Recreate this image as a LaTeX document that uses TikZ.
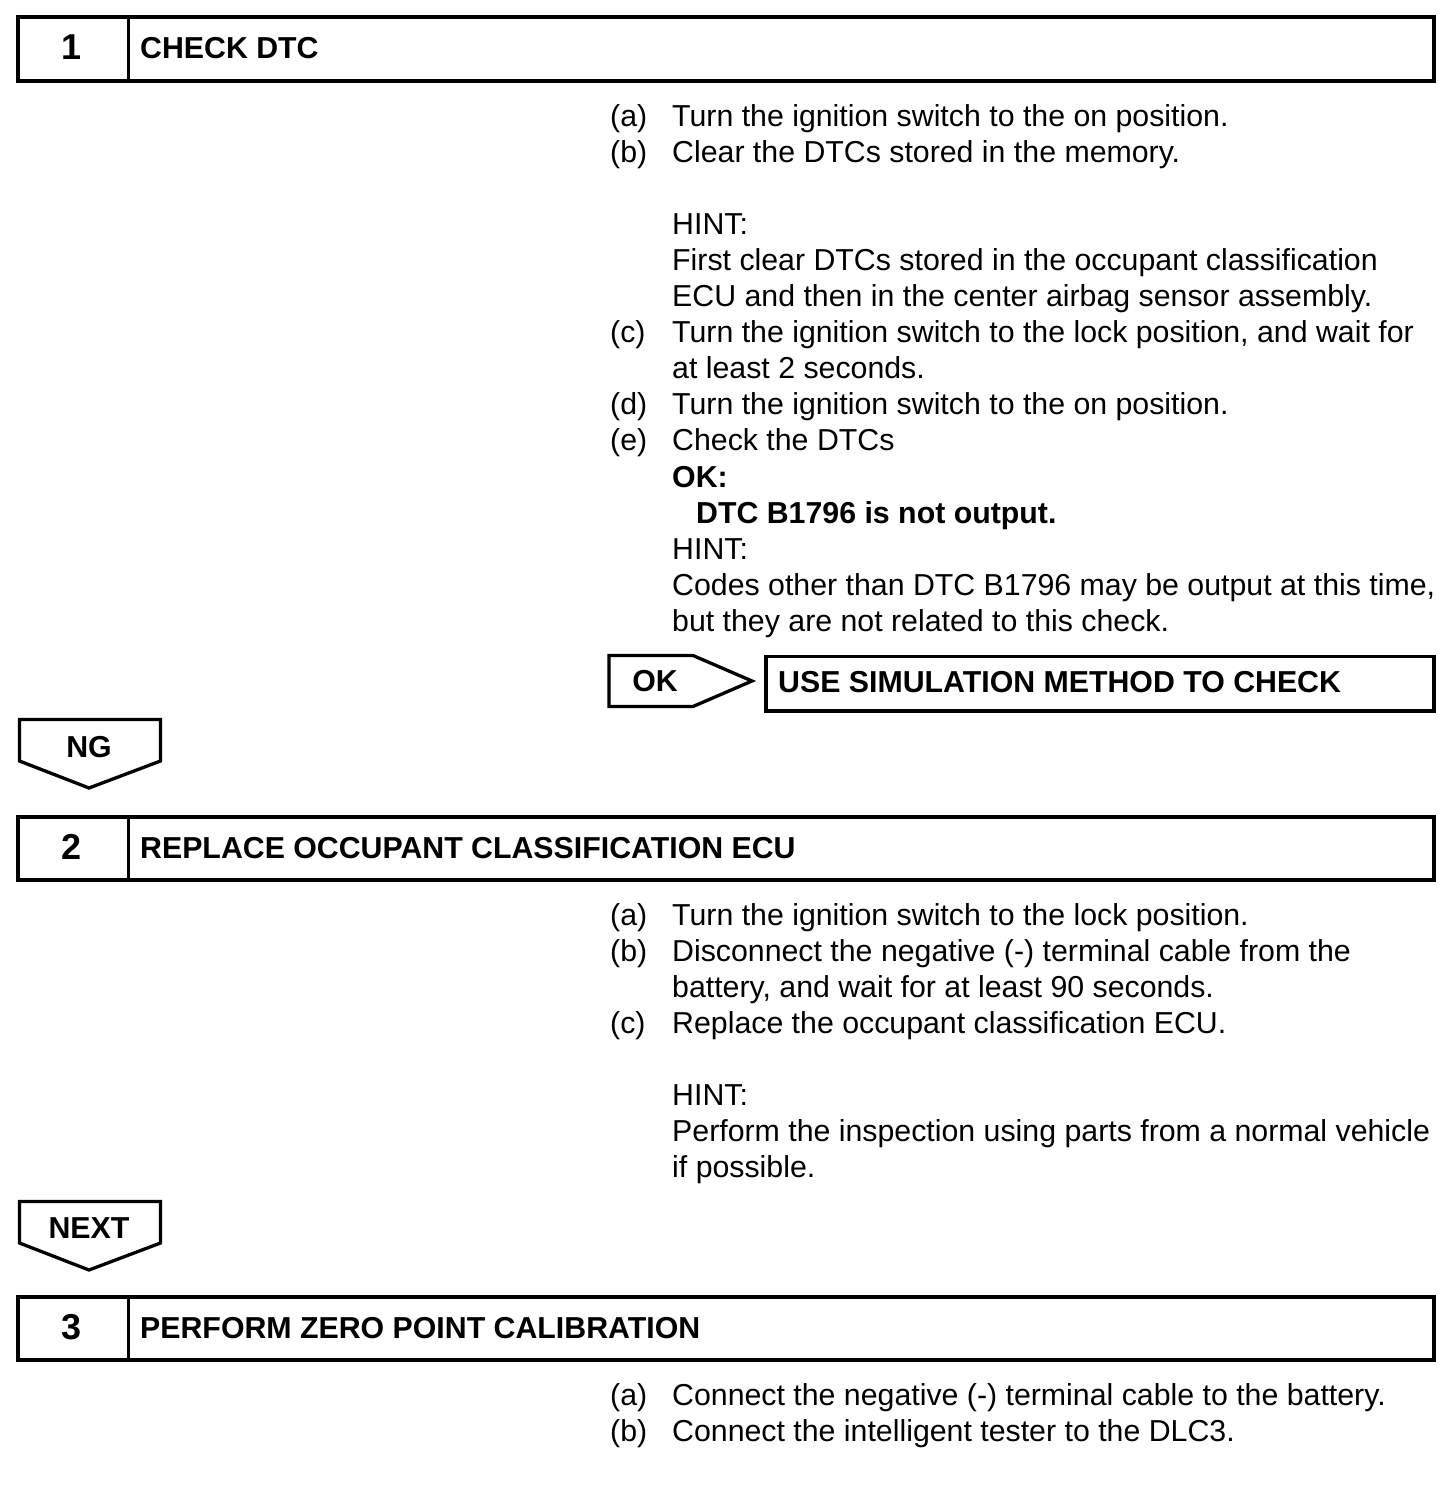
\documentclass[tikz,border=0pt]{standalone}
\usepackage{fontspec}
\setmainfont{Liberation Sans}
\begin{document}
\begin{tikzpicture}[x=1pt,y=-1pt,
  body/.style={anchor=base west, inner sep=0pt, font=\fontsize{30.3}{36}\selectfont},
  bbody/.style={anchor=base west, inner sep=0pt, font=\fontsize{30.3}{36}\selectfont\bfseries},
  numtxt/.style={anchor=base, inner sep=0pt, font=\fontsize{36}{40}\selectfont\bfseries},
  lbltxt/.style={anchor=base, inner sep=0pt, font=\fontsize{30.3}{36}\selectfont\bfseries},
  hdrframe/.style={draw, line width=4pt},
  hdrdiv/.style={draw, line width=3.3pt},
  shapeline/.style={draw, line width=3.3pt, line join=miter}
]
\useasboundingbox (0,0) rectangle (1456,1486);

% ---------- Header 1 ----------
\path[hdrframe] (18,17) rectangle (1434,80.5);
\path[hdrdiv] (128.3,17) -- (128.3,80.5);
\node[numtxt] (n1) at (72,59.5) {1};
\node[bbody] (t1) at (140,58) {CHECK DTC};

\node[body] (s1a) at (610,126) {(a)};
\node[body] (s1at) at (672,126) {Turn the ignition switch to the on position.};
\node[body] (s1b) at (610,162.1) {(b)};
\node[body] (s1bt) at (672,162.1) {Clear the DTCs stored in the memory.};
\node[body] (s1h1) at (672,234.3) {HINT:};
\node[body] (s1h1a) at (672,270.4) {First clear DTCs stored in the occupant classification};
\node[body] (s1h1b) at (672,306.5) {ECU and then in the center airbag sensor assembly.};
\node[body] (s1c) at (610,342.6) {(c)};
\node[body] (s1ct) at (672,342.6) {Turn the ignition switch to the lock position, and wait for};
\node[body] (s1ct2) at (672,378.7) {at least 2 seconds.};
\node[body] (s1d) at (610,414.8) {(d)};
\node[body] (s1dt) at (672,414.8) {Turn the ignition switch to the on position.};
\node[body] (s1e) at (610,450.9) {(e)};
\node[body] (s1et) at (672,450.9) {Check the DTCs};
\node[bbody] (s1ok) at (672,487) {OK:};
\node[bbody] (s1okt) at (696,523.1) {DTC B1796 is not output.};
\node[body] (s1h2) at (672,559.2) {HINT:};
\node[body] (s1h2a) at (672,595.3) {Codes other than DTC B1796 may be output at this time,};
\node[body] (s1h2b) at (672,631.4) {but they are not related to this check.};

% ---------- OK branch ----------
\path[shapeline] (609,655.5) -- (693,655.5) -- (752,681) -- (693,706.5) -- (609,706.5) -- cycle;
\node[lbltxt] (oklbl) at (655,691) {OK};
\path[shapeline] (766,656.5) rectangle (1434,711);
\node[bbody] (usesim) at (778,692) {USE SIMULATION METHOD TO CHECK};

% ---------- NG ----------
\path[shapeline] (19.5,719.5) -- (160.5,719.5) -- (160.5,761) -- (89,788) -- (19.5,761) -- cycle;
\node[lbltxt] (nglbl) at (89,757) {NG};

% ---------- Header 2 ----------
\path[hdrframe] (18,817) rectangle (1434,880);
\path[hdrdiv] (128.3,817) -- (128.3,880);
\node[numtxt] (n2) at (72,859.5) {2};
\node[bbody] (t2) at (140,858) {REPLACE OCCUPANT CLASSIFICATION ECU};

\node[body] (s2a) at (610,925) {(a)};
\node[body] (s2at) at (672,925) {Turn the ignition switch to the lock position.};
\node[body] (s2b) at (610,961.1) {(b)};
\node[body] (s2bt) at (672,961.1) {Disconnect the negative (-) terminal cable from the};
\node[body] (s2bt2) at (672,997.2) {battery, and wait for at least 90 seconds.};
\node[body] (s2c) at (610,1033.3) {(c)};
\node[body] (s2ct) at (672,1033.3) {Replace the occupant classification ECU.};
\node[body] (s2h) at (672,1105.5) {HINT:};
\node[body] (s2ha) at (672,1141.6) {Perform the inspection using parts from a normal vehicle};
\node[body] (s2hb) at (672,1177.7) {if possible.};

% ---------- NEXT ----------
\path[shapeline] (19.5,1201.5) -- (160.5,1201.5) -- (160.5,1243) -- (89,1270) -- (19.5,1243) -- cycle;
\node[lbltxt] (nextlbl) at (89,1238) {NEXT};

% ---------- Header 3 ----------
\path[hdrframe] (18,1297) rectangle (1434,1360);
\path[hdrdiv] (128.3,1297) -- (128.3,1360);
\node[numtxt] (n3) at (72,1339.5) {3};
\node[bbody] (t3) at (140,1338) {PERFORM ZERO POINT CALIBRATION};

\node[body] (s3a) at (610,1405) {(a)};
\node[body] (s3at) at (672,1405) {Connect the negative (-) terminal cable to the battery.};
\node[body] (s3b) at (610,1441.1) {(b)};
\node[body] (s3bt) at (672,1441.1) {Connect the intelligent tester to the DLC3.};
\end{tikzpicture}
\end{document}
